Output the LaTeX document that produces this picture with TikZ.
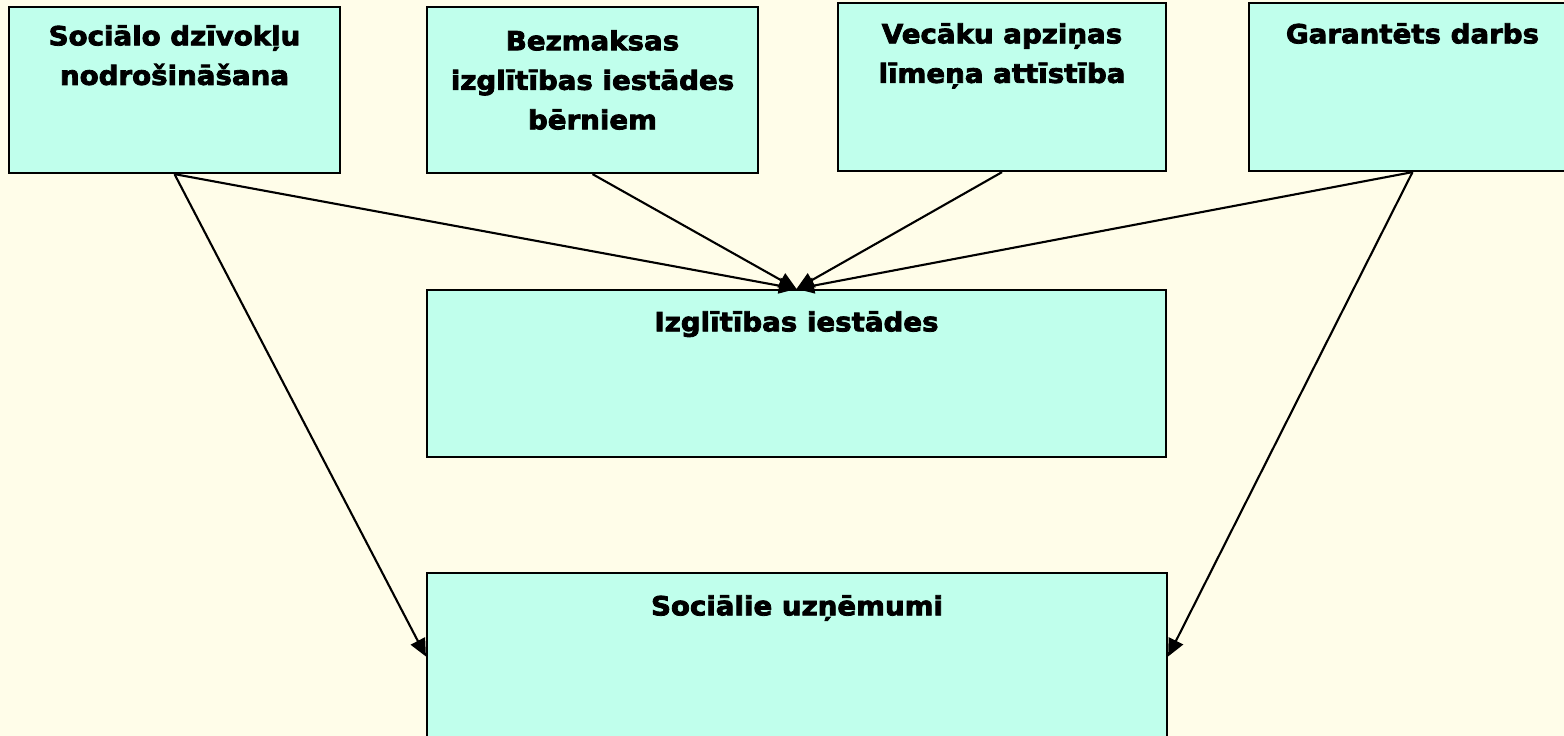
\documentclass[tikz,border=0pt]{standalone}
\usepackage{fontspec}
\setmainfont[FakeStretch=1.05,FakeBold=3]{DejaVu Sans}
\usetikzlibrary{positioning,arrows.meta}
\definecolor{bgyellow}{RGB}{255,253,233}
\definecolor{boxcyan}{RGB}{192,255,236}
\tikzset{box/.style = {draw, fill=boxcyan, line width=1.3pt, rectangle, inner sep=0}}
\tikzset{boxtext/.style = {font=\bfseries\fontsize{15}{22.5}\selectfont, align=center, inner sep=0}}
\tikzset{link/.style = {line width=1.2pt, -{Triangle[length=10pt,width=9pt]}}}

\begin{document}
\begin{tikzpicture}[x=0.02cm, y=-0.02cm]
\fill[bgyellow] (0,0) rectangle (1564,736);
\useasboundingbox (0,0) rectangle (1564,736);
% top row
\node[box, minimum width=6.62cm, minimum height=3.32cm] (flats) at (174.5,90) {};
\node[box, minimum width=6.62cm, minimum height=3.32cm] (freeschool) at (592.5,90) {};
\node[box, minimum width=6.56cm, minimum height=3.36cm] (parents) at (1002,87) {};
\node[box, minimum width=6.54cm, minimum height=3.36cm] (jobs) at (1412.5,87) {};
% middle and bottom
\node[box, minimum width=14.78cm, minimum height=3.34cm] (schools) at (796.5,373.5) {};
\node[box, minimum width=14.8cm, minimum height=3.34cm] (firms) at (797,656.5) {};
% texts
\node[boxtext, below=0.38cm of flats.north] (flats-t) {Sociālo dzīvokļu\\nodrošināšana};
\node[boxtext, below=0.48cm of freeschool.north] (freeschool-t) {Bezmaksas\\izglītības iestādes\\bērniem};
\node[boxtext, below=0.42cm of parents.north] (parents-t) {Vecāku apziņas\\līmeņa attīstība};
\node[boxtext, below=0.42cm of jobs.north] (jobs-t) {Garantēts darbs};
\node[boxtext, below=0.44cm of schools.north] (schools-t) {Izglītības iestādes};
\node[boxtext, below=0.46cm of firms.north] (firms-t) {Sociālie uzņēmumi};
% arrows
\draw[link] (flats.south) -- (schools.north);
\draw[link] (freeschool.south) -- (schools.north);
\draw[link] (parents.south) -- (schools.north);
\draw[link] (jobs.south) -- (schools.north);
\draw[link] (flats.south) -- (firms.west);
\draw[link] (jobs.south) -- (firms.east);
\end{tikzpicture}
\end{document}
